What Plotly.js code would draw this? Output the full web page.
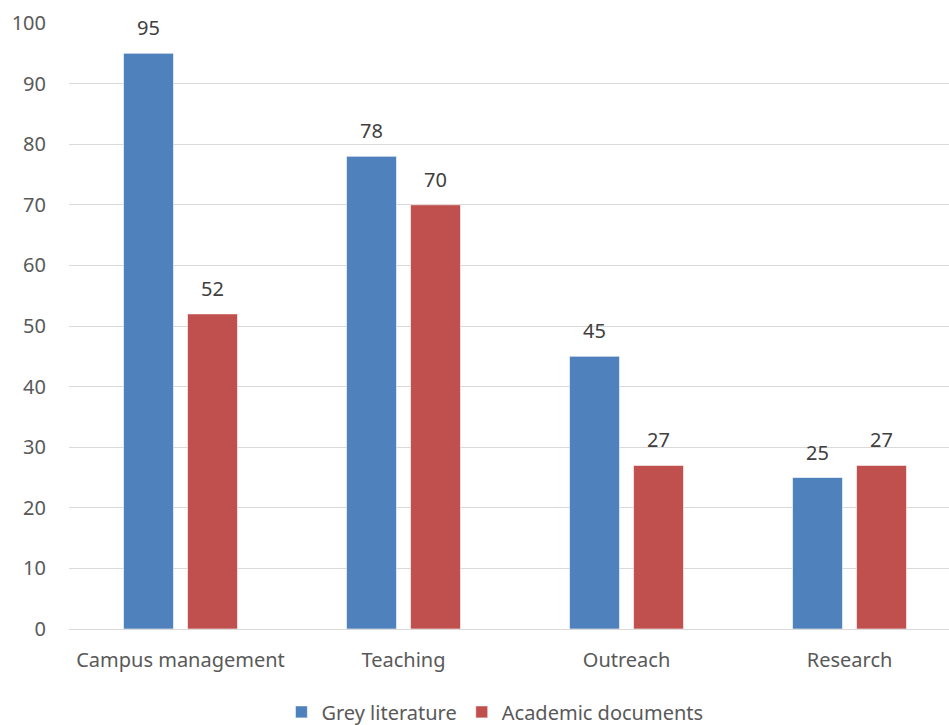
<!DOCTYPE html>
<html>
<head>
<meta charset="utf-8">
<script src="https://cdn.plot.ly/plotly-3.0.1.min.js"></script>
<style>
  html, body { margin: 0; padding: 0; background: #fff; }
  #chart { width: 949px; height: 725px; }
</style>
</head>
<body>
<div id="chart"></div>
<script>
// Literature sources by campus sustainability domain
const categories = ['Campus management', 'Teaching', 'Outreach', 'Research'];
const greyLiterature = [95, 78, 45, 25];
const academicDocuments = [52, 70, 27, 27];
const seriesNames = ['Grey literature', 'Academic documents'];
const yTicks = [0, 10, 20, 30, 40, 50, 60, 70, 80, 90, 100];

const BLUE = '#4F81BD';
const RED = '#C0504D';
const FONT = 'Noto Sans, sans-serif';
const TEXT = '#595959';

function barTrace(name, values, color) {
  return {
    type: 'bar',
    name: name,
    x: categories,
    y: values,
    marker: { color: color, line: { color: 'rgba(255,255,255,0.6)', width: 1 } },
    hoverinfo: 'x+y+name'
  };
}

const data = [
  barTrace(seriesNames[0], greyLiterature, BLUE),
  barTrace(seriesNames[1], academicDocuments, RED)
];

// value labels above each bar, offset to the bar's slot within its group
const SLOT_SHIFT = 32;
const annotations = [];
[greyLiterature, academicDocuments].forEach((values, s) => {
  values.forEach((v, i) => {
    annotations.push({
      x: categories[i],
      y: v,
      xref: 'x',
      yref: 'y',
      text: String(v),
      showarrow: false,
      xshift: s === 0 ? -SLOT_SHIFT : SLOT_SHIFT,
      yanchor: 'bottom',
      yshift: 10,
      font: { family: FONT, size: 20, color: '#404040' }
    });
  });
});

const layout = {
  width: 949,
  height: 725,
  margin: { l: 69, r: 0, t: 23, b: 96 },
  paper_bgcolor: '#ffffff',
  plot_bgcolor: '#ffffff',
  font: { family: FONT, size: 20, color: TEXT },
  barmode: 'group',
  bargap: 0.426,
  bargroupgap: 0.219,
  showlegend: true,
  annotations: annotations,
  legend: {
    orientation: 'h',
    x: 0.484,
    xanchor: 'center',
    yref: 'container',
    y: 0.045,
    yanchor: 'top',
    font: { family: FONT, size: 20, color: TEXT },
    traceorder: 'normal'
  },
  xaxis: {
    type: 'category',
    range: [-0.5, 3.446],
    automargin: false,
    showgrid: false,
    showline: false,
    zeroline: false,
    ticks: '',
    ticklabelstandoff: 17,
    tickfont: { family: FONT, size: 20, color: TEXT },
    fixedrange: true
  },
  yaxis: {
    range: [0, 100],
    tickvals: yTicks,
    automargin: false,
    showgrid: true,
    gridcolor: '#D9D9D9',
    gridwidth: 1,
    zeroline: true,
    zerolinecolor: '#D9D9D9',
    zerolinewidth: 1,
    showline: false,
    ticks: '',
    ticklabelstandoff: 22,
    tickfont: { family: FONT, size: 20, color: TEXT },
    fixedrange: true
  }
};

Plotly.newPlot('chart', data, layout, { displayModeBar: false, staticPlot: true });
</script>
</body>
</html>
